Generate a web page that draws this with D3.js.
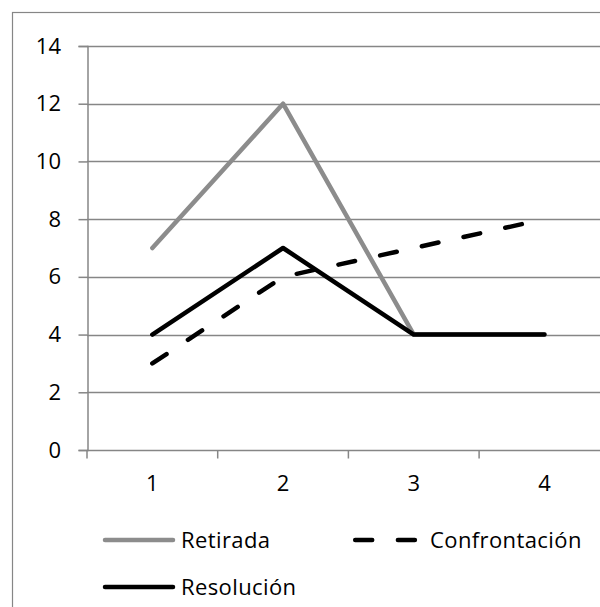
<!DOCTYPE html>
<html><head><meta charset="utf-8">
<script src="https://cdn.jsdelivr.net/npm/d3@7"></script>
<style>html,body{margin:0;padding:0;background:#fff;overflow:hidden}</style>
</head><body>
<script>
const categories = ["1","2","3","4"];
const seriesNames = ["Retirada","Confrontación","Resolución"];
const retirada = [7,12,4,4];
const confrontacion = [3,6,7,8];
const resolucion = [4,7,4,4];
const yTicks = [0,2,4,6,8,10,12,14];

const W=600,H=607;
const svg=d3.select("body").append("svg").attr("width",W).attr("height",H);
const font="'Open Sans', sans-serif", fs=22;
const grid="#868686";

// outer frame (cropped at right/bottom)
svg.append("rect").attr("x",12.5).attr("y",12.5).attr("width",700).attr("height",700)
  .attr("fill","#fff").attr("stroke",grid).attr("stroke-width",1.2);

const x=d3.scaleBand().domain(categories).range([87,87+4*130.7]);
const y=d3.scaleLinear().domain([0,14]).range([450,46]);

// gridlines
svg.append("g").selectAll("line").data(yTicks.filter(d=>d>0)).join("line")
  .attr("x1",87).attr("x2",620).attr("y1",d=>Math.round(y(d))+0.5).attr("y2",d=>Math.round(y(d))+0.5)
  .attr("stroke",grid).attr("stroke-width",1.5);

// y axis
const ya=svg.append("g").attr("transform","translate(87.5,0)")
  .call(d3.axisLeft(y).tickValues(yTicks).tickSize(9).tickPadding(17.5));
ya.select(".domain").attr("stroke",grid).attr("stroke-width",1.5);
ya.selectAll(".tick line").attr("stroke",grid).attr("stroke-width",1.5);
ya.selectAll("text").attr("font-family",font).attr("font-size",fs).attr("fill","#000");

// x axis
const xa=svg.append("g").attr("transform","translate(0,450.5)")
  .call(d3.axisBottom(x).tickSize(0).tickPadding(25.3));
xa.select(".domain").attr("d","M87,0H620").attr("stroke",grid).attr("stroke-width",1.5);
xa.selectAll("text").attr("font-family",font).attr("font-size",fs).attr("fill","#000");
xa.selectAll("line.b").data(categories.map(c=>x(c)).concat([x(categories[3])+x.bandwidth()])).join("line")
  .attr("class","b").attr("x1",d=>d).attr("x2",d=>d).attr("y1",0).attr("y2",8)
  .attr("stroke",grid).attr("stroke-width",1.5);

const cx=c=>x(c)+x.bandwidth()/2;
const line=d3.line().x((d,i)=>cx(categories[i])).y(d=>y(d));
const styles=[
  {data:retirada,color:"#8c8c8c",dash:null},
  {data:confrontacion,color:"#000",dash:"17,25.7"},
  {data:resolucion,color:"#000",dash:null}
];
styles.forEach(s=>{
  svg.append("path").attr("d",line(s.data)).attr("fill","none").attr("stroke",s.color)
    .attr("stroke-width",4.5).attr("stroke-linejoin","round").attr("stroke-linecap","round")
    .attr("stroke-dasharray",s.dash);
});

// legend
const leg=[{x1:105,x2:173,y:540,tx:181},{x1:355.2,x2:415,y:540,tx:430},{x1:105,x2:173,y:587,tx:181}];
leg.forEach((l,i)=>{
  const s=styles[i];
  svg.append("line").attr("x1",l.x1).attr("x2",l.x2).attr("y1",l.y).attr("y2",l.y)
    .attr("stroke",s.color).attr("stroke-width",4.5).attr("stroke-linecap","round")
    .attr("stroke-dasharray",s.dash);
  svg.append("text").attr("x",l.tx).attr("y",l.y).attr("dy","0.35em")
    .attr("font-family",font).attr("font-size",fs).attr("letter-spacing","0.4px")
    .attr("fill","#000").text(seriesNames[i]);
});
</script>
</body></html>
